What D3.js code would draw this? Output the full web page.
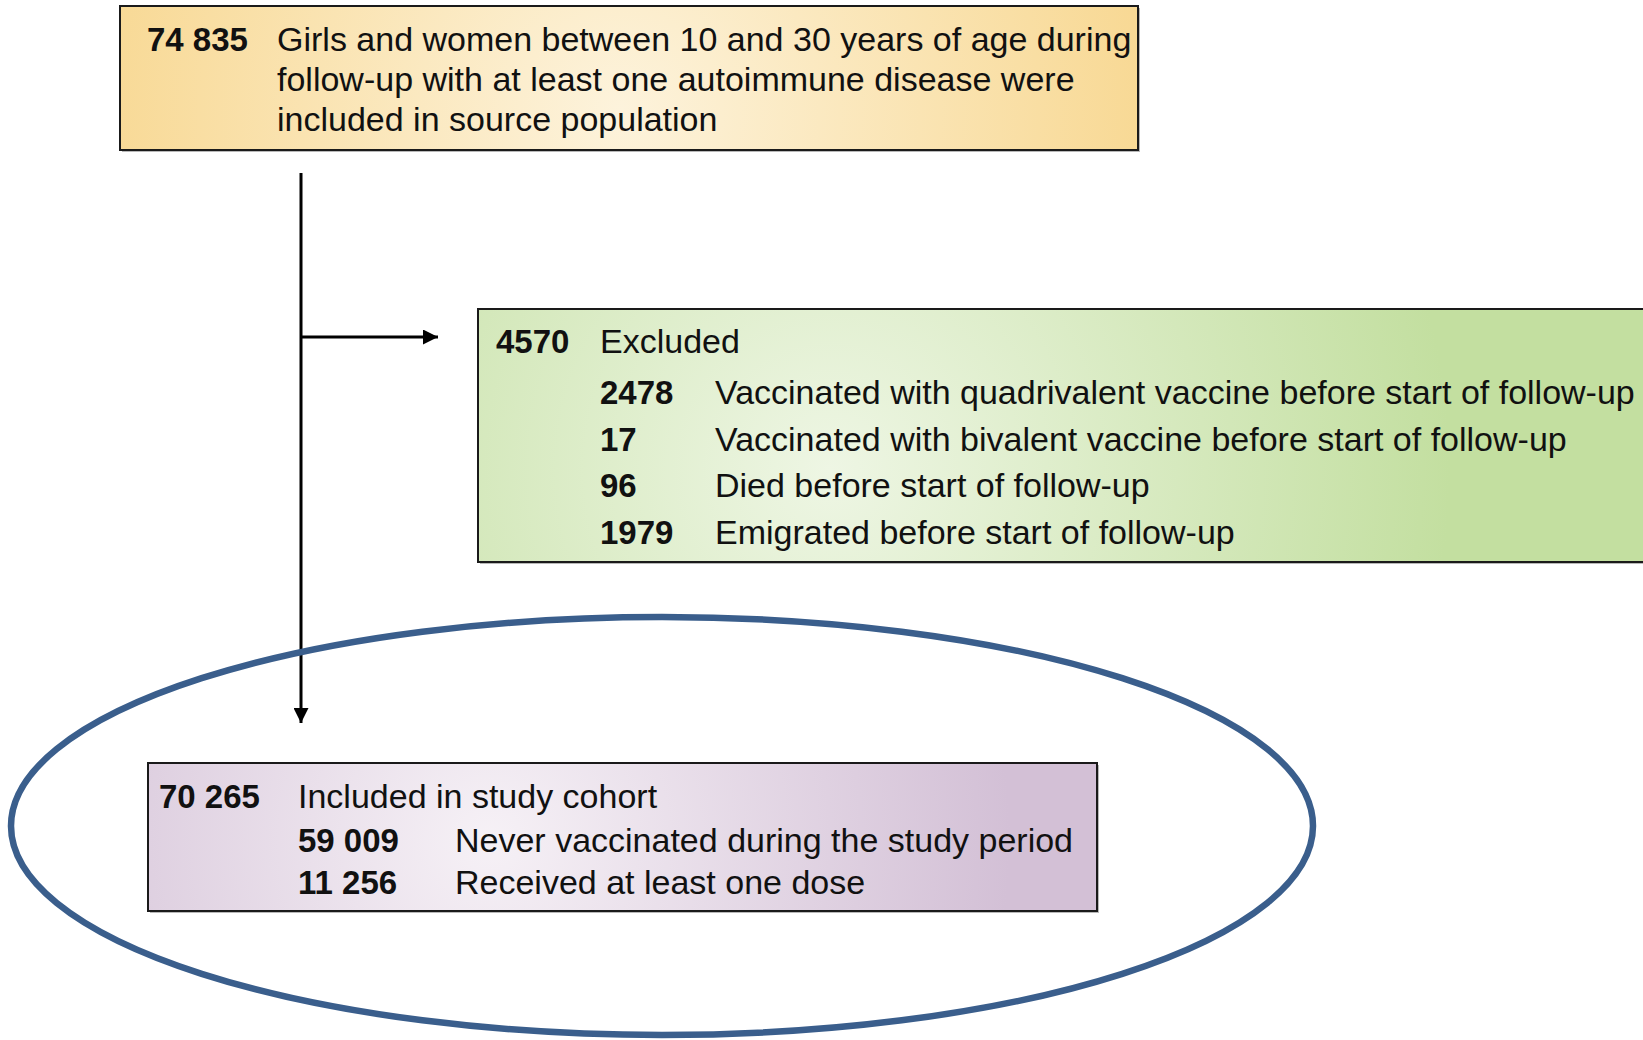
<!DOCTYPE html>
<html>
<head>
<meta charset="utf-8">
<script src="https://cdn.jsdelivr.net/npm/d3@7"></script>
<style>
  body { margin: 0; background: #fff; }
  svg { display: block; font-family: "Liberation Sans", Arial, sans-serif; }
</style>
</head>
<body>
<svg id="chart"></svg>
<script>
//Flow chart content
const sourceCount = "74 835";
const sourceLines = [
    "Girls and women between 10 and 30 years of age during",
    "follow-up with at least one autoimmune disease were",
    "included in source population"
];
const excludedCount = "4570";
const excludedLabel = "Excluded";
const excludedCounts = ["2478", "17", "96", "1979"];
const excludedReasons = [
    "Vaccinated with quadrivalent vaccine before start of follow-up",
    "Vaccinated with bivalent vaccine before start of follow-up",
    "Died before start of follow-up",
    "Emigrated before start of follow-up"
];
const cohortCount = "70 265";
const cohortLabel = "Included in study cohort";
const cohortCounts = ["59 009", "11 256"];
const cohortGroups = ["Never vaccinated during the study period", "Received at least one dose"];

//Canvas
const width = 1643;
const height = 1040;
const fontSize = 34;
const boldSize = 33;

const svg = d3.select("#chart")
    .attr("width", width)
    .attr("height", height);

const defs = svg.append("defs");

//Radial gradients for the boxes
function addGradient(id, cx, cy, r, inner, outer){
    const g = defs.append("radialGradient")
        .attr("id", id)
        .attr("gradientUnits", "userSpaceOnUse")
        .attr("cx", cx).attr("cy", cy).attr("r", r);
    g.append("stop").attr("offset", "0%").attr("stop-color", inner);
    g.append("stop").attr("offset", "100%").attr("stop-color", outer);
}
addGradient("gradTop", 620, 110, 520, "#fdf3dc", "#f8d995");
addGradient("gradGreen", 830, 470, 620, "#eef6e4", "#c3dfa0");
addGradient("gradPurple", 490, 840, 520, "#f6f1f6", "#d3c0d6");

defs.append("marker")
    .attr("id", "arrow")
    .attr("viewBox", "0 0 10 10")
    .attr("refX", 10).attr("refY", 5)
    .attr("markerWidth", 5.5).attr("markerHeight", 5)
    .attr("markerUnits", "strokeWidth")
    .attr("orient", "auto")
    .append("path")
    .attr("d", "M0,0 L10,5 L0,10 Z")
    .attr("fill", "#000");

//Box layout
const boxes = [
    {x: 120, y: 6, w: 1018, h: 144, fill: "url(#gradTop)"},
    {x: 478, y: 309, w: 1200, h: 253, fill: "url(#gradGreen)"},
    {x: 148, y: 763, w: 949, h: 148, fill: "url(#gradPurple)"}
];

//shadows
svg.selectAll(".shadow")
    .data(boxes)
    .enter()
    .append("rect")
    .attr("x", d => d.x + 2)
    .attr("y", d => d.y + 2)
    .attr("width", d => d.w)
    .attr("height", d => d.h)
    .attr("fill", "#b8b8b8");

svg.selectAll(".box")
    .data(boxes)
    .enter()
    .append("rect")
    .attr("x", d => d.x)
    .attr("y", d => d.y)
    .attr("width", d => d.w)
    .attr("height", d => d.h)
    .attr("fill", d => d.fill)
    .attr("stroke", "#1a1a1a")
    .attr("stroke-width", 2);

//Arrows
const trunkX = 301;
svg.append("line")
    .attr("x1", trunkX).attr("x2", trunkX)
    .attr("y1", 173).attr("y2", 723)
    .attr("stroke", "#000")
    .attr("stroke-width", 3)
    .attr("marker-end", "url(#arrow)");

svg.append("line")
    .attr("x1", trunkX).attr("x2", 438)
    .attr("y1", 337).attr("y2", 337)
    .attr("stroke", "#000")
    .attr("stroke-width", 3)
    .attr("marker-end", "url(#arrow)");

//Text helper
function addText(x, y, str, bold){
    svg.append("text")
        .attr("x", x)
        .attr("y", y)
        .style("font-size", (bold ? boldSize : fontSize) + "px")
        .style("font-weight", bold ? "bold" : "normal")
        .attr("fill", "#111")
        .text(str);
}

//Source population box
addText(147, 51, sourceCount, true);
svg.selectAll(".srcLine")
    .data(sourceLines)
    .enter()
    .append("text")
    .attr("x", 277)
    .attr("y", (d, i) => 51 + i * 40)
    .style("font-size", fontSize + "px")
    .attr("fill", "#111")
    .text(d => d);

//Excluded box
addText(496, 353, excludedCount, true);
addText(600, 353, excludedLabel, false);
const exclY = d3.scaleLinear().domain([0, 1]).range([404, 450.5]);
svg.selectAll(".exclCount")
    .data(excludedCounts)
    .enter()
    .append("text")
    .attr("x", 600)
    .attr("y", (d, i) => exclY(i))
    .style("font-size", boldSize + "px")
    .style("font-weight", "bold")
    .attr("fill", "#111")
    .text(d => d);
svg.selectAll(".exclReason")
    .data(excludedReasons)
    .enter()
    .append("text")
    .attr("x", 715)
    .attr("y", (d, i) => exclY(i))
    .style("font-size", fontSize + "px")
    .attr("fill", "#111")
    .text(d => d);

//Cohort box
addText(159, 808, cohortCount, true);
addText(298, 808, cohortLabel, false);
const cohortY = d3.scaleLinear().domain([0, 1]).range([852, 894]);
svg.selectAll(".cohortCount")
    .data(cohortCounts)
    .enter()
    .append("text")
    .attr("x", 298)
    .attr("y", (d, i) => cohortY(i))
    .style("font-size", boldSize + "px")
    .style("font-weight", "bold")
    .attr("fill", "#111")
    .text(d => d);
svg.selectAll(".cohortGroup")
    .data(cohortGroups)
    .enter()
    .append("text")
    .attr("x", 455)
    .attr("y", (d, i) => cohortY(i))
    .style("font-size", fontSize + "px")
    .attr("fill", "#111")
    .text(d => d);

//Highlight ellipse round the cohort
svg.append("ellipse")
    .attr("cx", 662)
    .attr("cy", 826)
    .attr("rx", 651)
    .attr("ry", 209)
    .attr("fill", "none")
    .attr("stroke", "#3a5e8c")
    .attr("stroke-width", 6.5);
</script>
</body>
</html>
